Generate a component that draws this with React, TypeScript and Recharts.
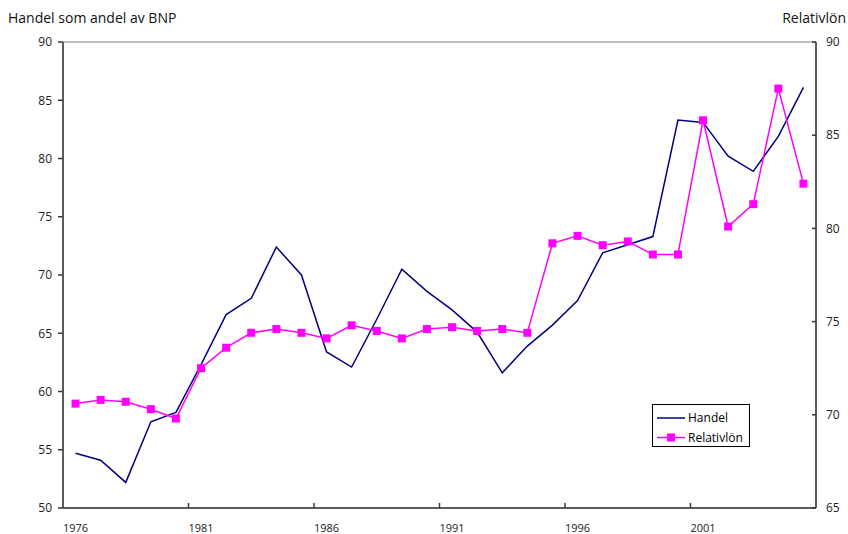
import React from 'react';
import {
  LineChart,
  Line,
  XAxis,
  YAxis,
  ReferenceArea,
  Legend,
} from 'recharts';

const years = [
  1976, 1977, 1978, 1979, 1980, 1981, 1982, 1983, 1984, 1985,
  1986, 1987, 1988, 1989, 1990, 1991, 1992, 1993, 1994, 1995,
  1996, 1997, 1998, 1999, 2000, 2001, 2002, 2003, 2004, 2005,
];

const handel = [
  54.7, 54.1, 52.2, 57.4, 58.2, 62.3, 66.6, 68.0, 72.4, 70.0,
  63.4, 62.1, 66.2, 70.5, 68.6, 67.0, 65.1, 61.6, 63.9, 65.7,
  67.8, 71.9, 72.6, 73.3, 83.3, 83.1, 80.2, 78.9, 81.9, 86.1,
];

const relativlon = [
  70.6, 70.8, 70.7, 70.3, 69.8, 72.5, 73.6, 74.4, 74.6, 74.4,
  74.1, 74.8, 74.5, 74.1, 74.6, 74.7, 74.5, 74.6, 74.4, 79.2,
  79.6, 79.1, 79.3, 78.6, 78.6, 85.8, 80.1, 81.3, 87.5, 82.4,
];

const xLabelTicks = [1976, 1981, 1986, 1991, 1996, 2001];
const xBoundaryTicks = [1980.5, 1985.5, 1990.5, 1995.5, 2000.5];
const xAllTicks = [...xLabelTicks, ...xBoundaryTicks].sort((a, b) => a - b);
const leftTicks = [50, 55, 60, 65, 70, 75, 80, 85, 90];
const rightTicks = [65, 70, 75, 80, 85, 90];

const data = years.map((year, i) => ({
  year,
  handel: handel[i],
  relativlon: relativlon[i],
}));

const FONT = '"Open Sans", "Noto Sans", sans-serif';
const AXIS_COLOR = '#3a3a3a';
const NAVY = '#000080';
const MAGENTA = '#ff00ff';
const X_TICK_MARGIN = 16;

const SquareDot = (props: any) => {
  const { cx, cy } = props;
  if (cx == null || cy == null) return null;
  return <rect x={cx - 4} y={cy - 4} width={8} height={8} fill={MAGENTA} />;
};

const BottomTick = (props: any) => {
  const { x, y, payload } = props;
  const v = payload.value as number;
  if (!Number.isInteger(v)) {
    const axisY = y - X_TICK_MARGIN;
    return <line x1={x} x2={x} y1={axisY} y2={axisY - 5} stroke={AXIS_COLOR} strokeWidth={1.5} />;
  }
  return (
    <text x={x} y={y} dy="0.71em" textAnchor="middle" fontSize={11} fill="#222" fontFamily={FONT}>
      {v}
    </text>
  );
};

const RightTick = (props: any) => {
  const { x, y, payload } = props;
  const axisX = x - 10;
  return (
    <g>
      <line x1={axisX - 4} x2={axisX} y1={y} y2={y} stroke={AXIS_COLOR} strokeWidth={1.5} />
      <text x={x} y={y} dy="0.35em" textAnchor="start" fontSize={12} fill="#222" fontFamily={FONT}>
        {payload.value}
      </text>
    </g>
  );
};

const LegendBox = () => (
  <div
    style={{
      position: 'relative',
      width: 98,
      height: 43,
      border: '1px solid #000',
      boxSizing: 'border-box',
      background: '#fff',
      fontFamily: FONT,
      fontSize: 12,
      color: '#000',
    }}
  >
    <svg width={30} height={43} style={{ position: 'absolute', left: 3, top: 0 }}>
      <line x1={1} x2={29} y1={13} y2={13} stroke={NAVY} strokeWidth={1.5} />
      <line x1={1} x2={29} y1={32.5} y2={32.5} stroke={MAGENTA} strokeWidth={1.5} />
      <rect x={11} y={28.5} width={8} height={8} fill={MAGENTA} />
    </svg>
    <div style={{ position: 'absolute', left: 35, top: 4, lineHeight: '18px' }}>Handel</div>
    <div style={{ position: 'absolute', left: 35, top: 23.5, lineHeight: '18px' }}>Relativlön</div>
  </div>
);

export default function App() {
  return (
    <div style={{ position: 'absolute', left: 0, top: 0, width: 848, height: 534, background: '#fff' }}>
      <div
        style={{
          position: 'absolute',
          left: 8,
          top: 8,
          fontFamily: FONT,
          fontSize: 14,
          color: '#111',
          whiteSpace: 'nowrap',
        }}
      >
        Handel som andel av BNP
      </div>
      <div
        style={{
          position: 'absolute',
          right: 2,
          top: 8,
          fontFamily: FONT,
          fontSize: 14,
          color: '#111',
          whiteSpace: 'nowrap',
        }}
      >
        Relativlön
      </div>
      <LineChart
        width={848}
        height={534}
        data={data}
        margin={{ top: 42, right: 0, bottom: 0, left: 0 }}
        style={{ fontFamily: FONT }}
      >
        <ReferenceArea
          xAxisId="labels"
          yAxisId="left"
          x1={1975.5}
          x2={2005.5}
          y1={50}
          y2={90}
          fill="none"
          stroke="#7f7f7f"
          strokeWidth={1}
          ifOverflow="visible"
        />
        <XAxis
          xAxisId="labels"
          type="number"
          dataKey="year"
          domain={[1975.5, 2005.5]}
          ticks={xAllTicks}
          height={26}
          tickLine={false}
          tickSize={0}
          tickMargin={X_TICK_MARGIN}
          interval={0}
          axisLine={{ stroke: AXIS_COLOR, strokeWidth: 1.5 }}
          tick={<BottomTick />}
          allowDataOverflow
        />
        <YAxis
          yAxisId="left"
          orientation="left"
          domain={[50, 90]}
          ticks={leftTicks}
          width={63}
          tickSize={5}
          tickMargin={6}
          interval={0}
          axisLine={{ stroke: AXIS_COLOR, strokeWidth: 1.5 }}
          tickLine={{ stroke: AXIS_COLOR, strokeWidth: 1.5 }}
          tick={{ fontSize: 12, fill: '#222', fontFamily: FONT }}
        />
        <YAxis
          yAxisId="right"
          orientation="right"
          domain={[65, 90]}
          ticks={rightTicks}
          width={32}
          tickSize={0}
          tickMargin={10}
          interval={0}
          axisLine={{ stroke: AXIS_COLOR, strokeWidth: 1.5 }}
          tickLine={false}
          tick={<RightTick />}
        />
        <Line
          xAxisId="labels"
          yAxisId="left"
          type="linear"
          dataKey="handel"
          name="Handel"
          stroke={NAVY}
          strokeWidth={1.5}
          dot={false}
          isAnimationActive={false}
        />
        <Line
          xAxisId="labels"
          yAxisId="right"
          type="linear"
          dataKey="relativlon"
          name="Relativlön"
          stroke={MAGENTA}
          strokeWidth={1.5}
          dot={<SquareDot />}
          isAnimationActive={false}
        />
        <Legend
          layout="horizontal"
          verticalAlign="middle"
          align="center"
          content={<LegendBox />}
          wrapperStyle={{ position: 'absolute', left: 652, top: 404, width: 98, height: 43 }}
        />
      </LineChart>
    </div>
  );
}
